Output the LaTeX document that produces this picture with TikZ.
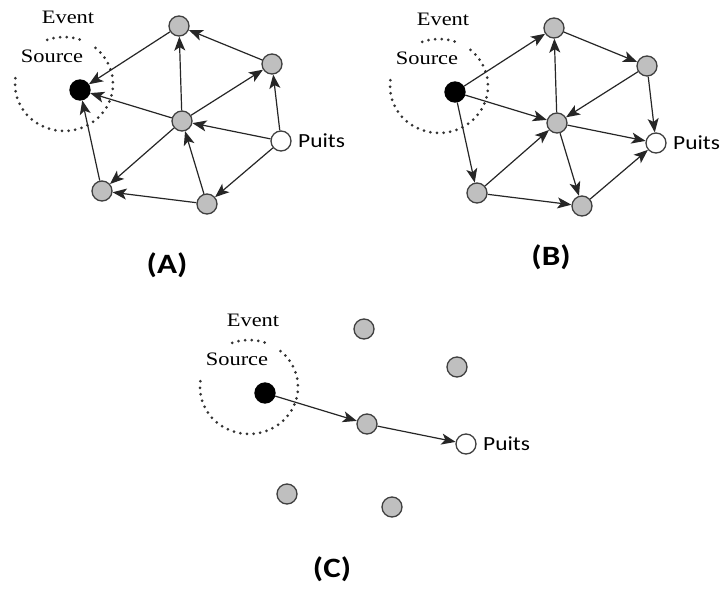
\documentclass[tikz,border=0pt]{standalone}
\usepackage{fontspec}
\setmainfont{Liberation Serif}
\newfontfamily\calib{Carlito}
\usetikzlibrary{arrows.meta}

\tikzset{
  sensor/.style={circle, minimum size=20pt, inner sep=0pt, draw=black!75, line width=1.3pt, fill=gray!50},
  srcnode/.style={sensor, fill=black, draw=black},
  sinknode/.style={sensor, fill=white},
  link/.style={line width=1.2pt, draw=black!85, -{Stealth[length=14pt,width=11pt,inset=3.5pt]}},
  ring/.style={line width=3pt, line cap=round, dash pattern=on 0pt off 6.6pt, black!80},
  serif lbl/.style={inner sep=0pt, font=\fontsize{19}{20}\selectfont},
  sink lbl/.style={inner sep=0pt, anchor=west, font=\calib\fontsize{20}{22}\selectfont},
  panel lbl/.style={inner sep=0pt, font=\calib\bfseries\fontsize{28}{30}\selectfont}
}

% One panel: source, sink, five sensors, the dotted event zone and its labels.
% The origin of the current scope is the source node.
\newcommand\sensorfield[1]{%
  \node[sensor]   (#1top) at (99,-64) {};
  \node[sensor]   (#1rt)  at (192,-26) {};
  \node[sensor]   (#1ctr) at (102,31) {};
  \node[sinknode] (#1snk) at (201,51) {};
  \node[sensor]   (#1bl)  at (22,101) {};
  \node[sensor]   (#1br)  at (127,114) {};
  \coordinate (#1zone) at (-16,-6);
  \draw[ring] (#1zone) ++(-110:49 and 47) arc[start angle=-110, end angle=-70, x radius=49, y radius=47];
  \draw[ring] (#1zone) ++(-50:49 and 47) arc[start angle=-50, end angle=190, x radius=49, y radius=47];
  \node[srcnode]  (#1src) at (0,0) {};
  \node[serif lbl] (#1event) at (-12,-73) {\scalebox{1.18}[1]{Event}};
  \node[serif lbl] (#1source) at (-28,-34) {\scalebox{1.18}[1]{Source}};
  \node[sink lbl] (#1snklbl) at ([xshift=17pt]#1snk.center) {\scalebox{1.17}[1]{Puits}};
}

\begin{document}
\begin{tikzpicture}[x=1pt, y=-1pt]
\path[use as bounding box, fill=white] (0,0) rectangle (720,589);

% (A)
\begin{scope}[shift={(80,90)}]
  \sensorfield{a}
  \draw[link] (atop) -- (asrc);
  \draw[link] (actr) -- (atop);
  \draw[link] (art)  -- (atop);
  \draw[link] (actr) -- (art);
  \draw[link] (asnk) -- (art);
  \draw[link] (actr) -- (asrc);
  \draw[link] (asnk) -- (actr);
  \draw[link] (abr)  -- (actr);
  \draw[link] (actr) -- (abl);
  \draw[link] (abl)  -- (asrc);
  \draw[link] (abr)  -- (abl);
  \draw[link] (asnk) -- (abr);
\end{scope}
\node[panel lbl] (capA) at (167,265) {\scalebox{1.18}[1]{(A)}};

% (B)
\begin{scope}[shift={(455,92)}]
  \sensorfield{b}
  \draw[link] (bsrc) -- (btop);
  \draw[link] (bsrc) -- (bctr);
  \draw[link] (bsrc) -- (bbl);
  \draw[link] (bctr) -- (btop);
  \draw[link] (btop) -- (brt);
  \draw[link] (brt)  -- (bctr);
  \draw[link] (brt)  -- (bsnk);
  \draw[link] (bctr) -- (bsnk);
  \draw[link] (bctr) -- (bbr);
  \draw[link] (bbl)  -- (bctr);
  \draw[link] (bbl)  -- (bbr);
  \draw[link] (bbr)  -- (bsnk);
\end{scope}
\node[panel lbl] (capB) at (551,257) {\scalebox{1.18}[1]{(B)}};

% (C)
\begin{scope}[shift={(265,393)}]
  \sensorfield{c}
  \draw[link] (csrc) -- (cctr);
  \draw[link] (cctr) -- (csnk);
\end{scope}
\node[panel lbl] (capC) at (332,569) {\scalebox{1.18}[1]{(C)}};
\end{tikzpicture}
\end{document}
